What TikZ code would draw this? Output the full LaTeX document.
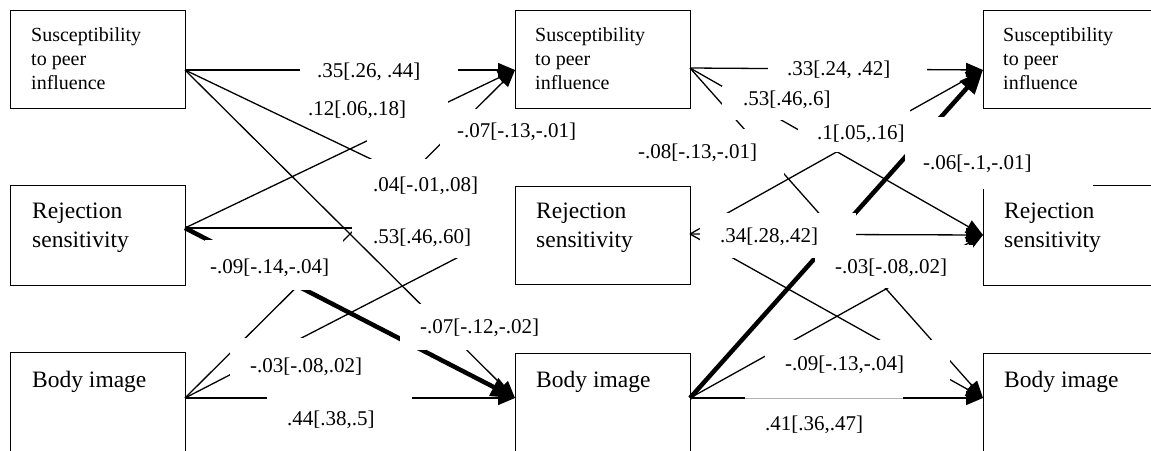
\documentclass[tikz,border=0pt]{standalone}
\usepackage{fontspec}
\setmainfont{Liberation Serif}
\usetikzlibrary{arrows.meta}
\pgfdeclarelayer{bg}
\pgfsetlayers{bg,main}
\begin{document}
\begin{tikzpicture}[x=1pt,y=-1pt,
  vbox/.style={draw, line width=1.3pt, inner sep=0pt, minimum width=175pt, anchor=north west},
  spitext/.style={anchor=base west, inner sep=0pt, font=\fontsize{20}{24}\selectfont},
  vtext/.style={anchor=base west, inner sep=0pt, font=\fontsize{23.5}{29}\selectfont},
  lab/.style={anchor=base west, inner sep=0pt, font=\fontsize{21}{25}\selectfont},
  conn/.style={line width=1.3pt, -{Triangle[length=17pt,width=14pt]}},
  connthick/.style={line width=4.5pt, -{Triangle[length=24pt,width=19pt]}},
  mask/.style={fill=white}
]
\useasboundingbox (0,0) rectangle (1151,450);

% variable boxes
\node[vbox, minimum height=98pt] (s1) at (10,10) {};
\node[vbox, minimum height=100pt] (r1) at (10,185) {};
\node[vbox, minimum height=110pt] (b1) at (10,352) {};
\node[vbox, minimum height=98pt] (s2) at (515,10) {};
\node[vbox, minimum height=98pt] (r2) at (515,186) {};
\node[vbox, minimum height=110pt] (b2) at (515,353) {};
\node[vbox, minimum height=98pt, minimum width=185pt] (s3) at (983,10) {};
\node[vbox, minimum height=100pt, minimum width=185pt] (r3) at (983,185) {};
\node[vbox, minimum height=110pt, minimum width=185pt] (b3) at (983,353) {};

% connection points
\coordinate (s1o) at (185,70);
\coordinate (r1o) at (185,228);
\coordinate (b1o) at (185,398);
\coordinate (s2i) at (515,70);
\coordinate (r2i) at (515,228);
\coordinate (b2i) at (515,398);
\coordinate (s2o) at (690,68);
\coordinate (r2o) at (690,234);
\coordinate (b2o) at (690,398);
\coordinate (s3i) at (983,70);
\coordinate (r3i) at (983,235);
\coordinate (b3i) at (983,398);

\begin{pgfonlayer}{bg}
% wave 1 -> wave 2
\draw[conn] (s1o) -- (s2i);
\draw[conn] (s1o) -- (r2i);
\draw[conn] (r1o) -- (s2i);
\draw[conn] (r1o) -- (r2i);
\draw[connthick] (r1o) -- (b2i);
\draw[conn] (b1o) -- (r2i);
\draw[conn] (b1o) -- (s2i);
\draw[conn] (b1o) -- (b2i);
% wave 2 -> wave 3
\draw[conn] (s2o) -- (s3i);
\draw[conn] (s2o) -- (r3i);
\draw[conn] (s2o) -- (b3i);
\draw[conn] (r2o) -- (s3i);
\draw[conn] (r2o) -- (r3i);
\draw[conn] (r2o) -- (b3i);
\draw[connthick] (b2o) -- (s3i);
\draw[conn] (b2o) -- (r3i);
\draw[conn] (b2o) -- (b3i);
% label backgrounds
\fill[mask] (300,50) rectangle (458,90);
\fill[mask] (367,90) rectangle (448,142);
\fill[mask] (440,109) rectangle (598,150);
\fill[mask] (367,159) rectangle (515,214);
\fill[mask] (352,214) rectangle (515,258);
\fill[mask] (205,240) rectangle (343,290);
\fill[mask] (230,338) rectangle (390,392);
\fill[mask] (267,396) rectangle (412,452);
\fill[mask] (768,50) rectangle (927,88);
\fill[mask] (722,86) rectangle (880,120);
\fill[mask] (620,129) rectangle (784,175);
\fill[mask] (798,108) rectangle (910,152);
\fill[mask] (700,213) rectangle (856,258);
\fill[mask] (815,245) rectangle (973,288);
\fill[mask] (765,340) rectangle (950,392);
\fill[mask] (745,396.5) rectangle (903,452);
\draw[conn] (s1o) -- (b2i);
\fill[mask] (400,304) rectangle (560,350);
\end{pgfonlayer}

\fill[mask] (905,117) rectangle (1093,189);
\draw[gray!60, line width=0.7pt] (745,398.5) -- (903,398.5);

% box texts
\node[spitext] (s1t) at (31,41) {\begin{tabular}[t]{@{}l@{}}Susceptibility\\to peer\\influence\end{tabular}};
\node[spitext] (s2t) at (535,41) {\begin{tabular}[t]{@{}l@{}}Susceptibility\\to peer\\influence\end{tabular}};
\node[spitext] (s3t) at (1003,41) {\begin{tabular}[t]{@{}l@{}}Susceptibility\\to peer\\influence\end{tabular}};
\node[vtext] (r1t) at (32,218) {\begin{tabular}[t]{@{}l@{}}Rejection\\sensitivity\end{tabular}};
\node[vtext] (r2t) at (536,218) {\begin{tabular}[t]{@{}l@{}}Rejection\\sensitivity\end{tabular}};
\node[vtext] (r3t) at (1004,218) {\begin{tabular}[t]{@{}l@{}}Rejection\\sensitivity\end{tabular}};
\node[vtext] (b1t) at (32,387) {Body image};
\node[vtext] (b2t) at (536,387) {Body image};
\node[vtext] (b3t) at (1004,387) {Body image};

% path labels
\node[lab] (l1) at (317,77) {.35[.26, .44]};
\node[lab] (l2) at (308,115) {.12[.06,.18]};
\node[lab] (l3) at (457,137) {-.07[-.13,-.01]};
\node[lab] (l4) at (373,191) {.04[-.01,.08]};
\node[lab] (l5) at (373,243) {.53[.46,.60]};
\node[lab] (l6) at (210,273) {-.09[-.14,-.04]};
\node[lab] (l7) at (420,333) {-.07[-.12,-.02]};
\node[lab] (l8) at (250,372) {-.03[-.08,.02]};
\node[lab] (l9) at (287,425) {.44[.38,.5]};
\node[lab] (m1) at (787,75) {.33[.24, .42]};
\node[lab] (m2) at (743,105) {.53[.46,.6]};
\node[lab] (m3) at (638,158) {-.08[-.13,-.01]};
\node[lab] (m4) at (817,139) {.1[.05,.16]};
\node[lab] (m5) at (923,169) {-.06[-.1,-.01]};
\node[lab] (m6) at (720,242) {.34[.28,.42]};
\node[lab] (m7) at (835,273) {-.03[-.08,.02]};
\node[lab] (m8) at (785,370) {-.09[-.13,-.04]};
\node[lab] (m9) at (765,430) {.41[.36,.47]};
\end{tikzpicture}
\end{document}
